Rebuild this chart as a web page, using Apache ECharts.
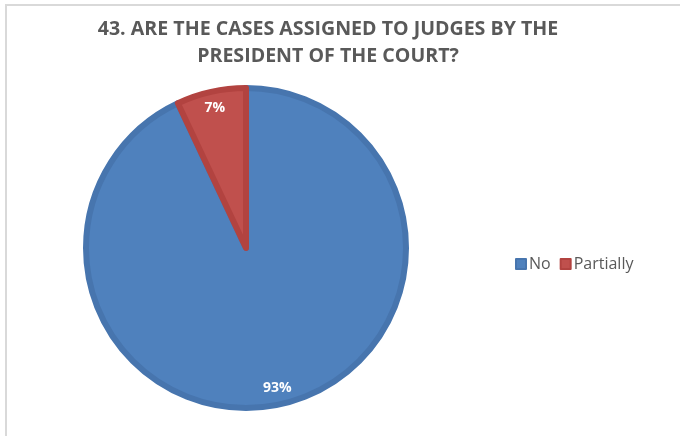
<!DOCTYPE html>
<html><head><meta charset="utf-8">
<script src="https://cdn.jsdelivr.net/npm/echarts@6/dist/echarts.min.js"></script>
<style>html,body{margin:0;padding:0;background:#fff}#c{width:680px;height:436px}</style>
</head><body><div id="c"></div>
<script>
const titleLines = ['43. ARE THE CASES ASSIGNED TO JUDGES BY THE', 'PRESIDENT OF THE COURT?'];
const categories = ['No', 'Partially'];
const values = [93, 7];
const colors = ['#4F81BD', '#C0504D'];
const borderColors = ['#4775AE', '#B24340'];

const chart = echarts.init(document.getElementById('c'), null, {renderer: 'canvas'});
const data = categories.map((n, i) => ({
  name: n, value: values[i],
  itemStyle: {color: colors[i], borderColor: borderColors[i], borderWidth: 6}
}));
chart.setOption({
  animation: false,
  graphic: [{type: 'rect', shape: {x: 6, y: 5, width: 720, height: 500}, style: {fill: 'none', stroke: '#D9D9D9', lineWidth: 2}, silent: true}],
  title: {
    text: titleLines.join('\n'), left: 323, top: 11, textAlign: 'center',
    textStyle: {fontFamily: 'Open Sans', fontWeight: 'bold', fontSize: 19.6, color: '#595959', lineHeight: 27}
  },
  legend: {
    data: categories, left: 510, top: 251, itemWidth: 10, itemHeight: 10, itemGap: 9,
    icon: 'rect', selectedMode: false,
    textStyle: {fontFamily: 'Open Sans', fontSize: 16, color: '#595959', padding: [0, 0, 0, -2]}
  },
  series: [{
    type: 'pie', center: [246, 248], radius: [0, 160], startAngle: 90, clockwise: true,
    label: {show: false}, labelLine: {show: false}, silent: true,
    data: data
  }, {
    type: 'pie', center: [246, 248], radius: [122, 159], startAngle: 90, clockwise: true,
    silent: true, itemStyle: {color: 'rgba(0,0,0,0)', borderWidth: 0},
    label: {show: true, position: 'inside', formatter: '{c}%', color: '#fff', fontFamily: 'Open Sans', fontWeight: 'bold', fontSize: 14},
    labelLine: {show: false},
    data: categories.map((n, i) => ({name: n, value: values[i]}))
  }]
});
</script></body></html>
